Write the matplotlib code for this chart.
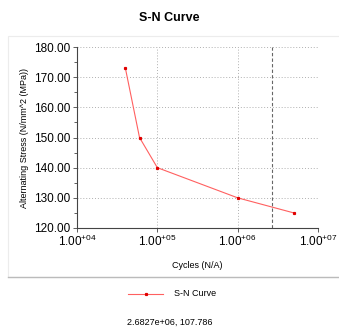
import matplotlib
matplotlib.use("Agg")
import matplotlib.pyplot as plt
from matplotlib.patches import Rectangle
from matplotlib.lines import Line2D

cycles = [4e4, 6e4, 1e5, 1e6, 5e6]
stress = [173, 150, 140, 130, 125]
cursor_x = 2.6827e6
cursor_y = 107.786
x_ticks = [1e4, 1e5, 1e6, 1e7]
x_labels = [r"1.00$^{+04}$", r"1.00$^{+05}$", r"1.00$^{+06}$", r"1.00$^{+07}$"]
y_ticks = [120, 130, 140, 150, 160, 170, 180]

plt.rcParams["font.family"] = ["Liberation Sans", "DejaVu Sans"]
plt.rcParams["mathtext.fontset"] = "custom"
plt.rcParams["mathtext.rm"] = "Liberation Sans"
plt.rcParams["mathtext.it"] = "Liberation Sans"


def main() -> None:
    fig = plt.figure(figsize=(3.39, 3.27), dpi=100)
    fig.patch.set_facecolor("white")

    # faint panel frame around the plot
    fig.patches.append(Rectangle((8 / 339, 1 - 277 / 327), 340 / 339, 241 / 327,
                                 transform=fig.transFigure, fill=False,
                                 edgecolor="#ececec", linewidth=0.8))
    fig.add_artist(Line2D([8 / 339, 1.0], [1 - 277 / 327] * 2,
                          transform=fig.transFigure, color="#bbbbbb", linewidth=1.0))

    ax = fig.add_axes([77 / 339, 1 - 228 / 327, 241 / 339, 181 / 327])
    ax.set_xscale("log")
    ax.set_xlim(1e4, 1e7)
    ax.set_ylim(120, 180)

    ax.plot(cycles, stress, color="#ff6060", linewidth=0.8,
            marker="s", markersize=1.3, markerfacecolor="#e00000",
            markeredgecolor="#e00000")
    ax.axvline(cursor_x, color="#666666", linestyle=(0, (3, 2)), linewidth=0.8)

    ax.set_xticks(x_ticks)
    ax.set_xticklabels(x_labels)
    ax.xaxis.set_minor_locator(matplotlib.ticker.NullLocator())
    ax.set_yticks(y_ticks)
    ax.set_yticklabels([f"{v:.2f}" for v in y_ticks])
    ax.set_yticks([125, 135, 145, 155, 165, 175], minor=True)

    ax.grid(True, which="major", color="#b0b0b0", linestyle=(0, (1, 2)), linewidth=0.7)
    for side in ["top", "right"]:
        ax.spines[side].set_visible(False)
    for side in ["left", "bottom"]:
        ax.spines[side].set_color("#444444")
        ax.spines[side].set_linewidth(0.8)

    ax.tick_params(axis="both", which="major", labelsize=8.5, length=3,
                   width=0.6, color="#444444", pad=1.5)
    ax.tick_params(axis="y", which="minor", length=2, width=0.6, color="#444444")

    ax.set_xlabel("Cycles (N/A)", fontsize=6.5, labelpad=8)
    ax.set_ylabel("Alternating Stress (N/mm^2 (MPa))", fontsize=6.5, labelpad=4)

    fig.text(0.5, 1 - 18 / 327, "S-N Curve", ha="center", va="center",
             fontsize=9, fontweight="bold")

    fig.add_artist(Line2D([128 / 339, 163 / 339], [1 - 294 / 327] * 2,
                          transform=fig.transFigure, color="#ff6060", linewidth=0.8))
    fig.add_artist(Line2D([145.5 / 339], [1 - 294 / 327], transform=fig.transFigure,
                          marker="s", markersize=1.3, color="#e00000", linestyle="none"))
    fig.text(174 / 339, 1 - 294 / 327, "S-N Curve", ha="left", va="center", fontsize=6.5)
    fig.text(0.5, 1 - 322 / 327, f"{cursor_x:.4e}, {cursor_y}", ha="center",
             va="center", fontsize=6.5)

    fig.savefig("out.png", dpi=100)


if __name__ == "__main__":
    main()
